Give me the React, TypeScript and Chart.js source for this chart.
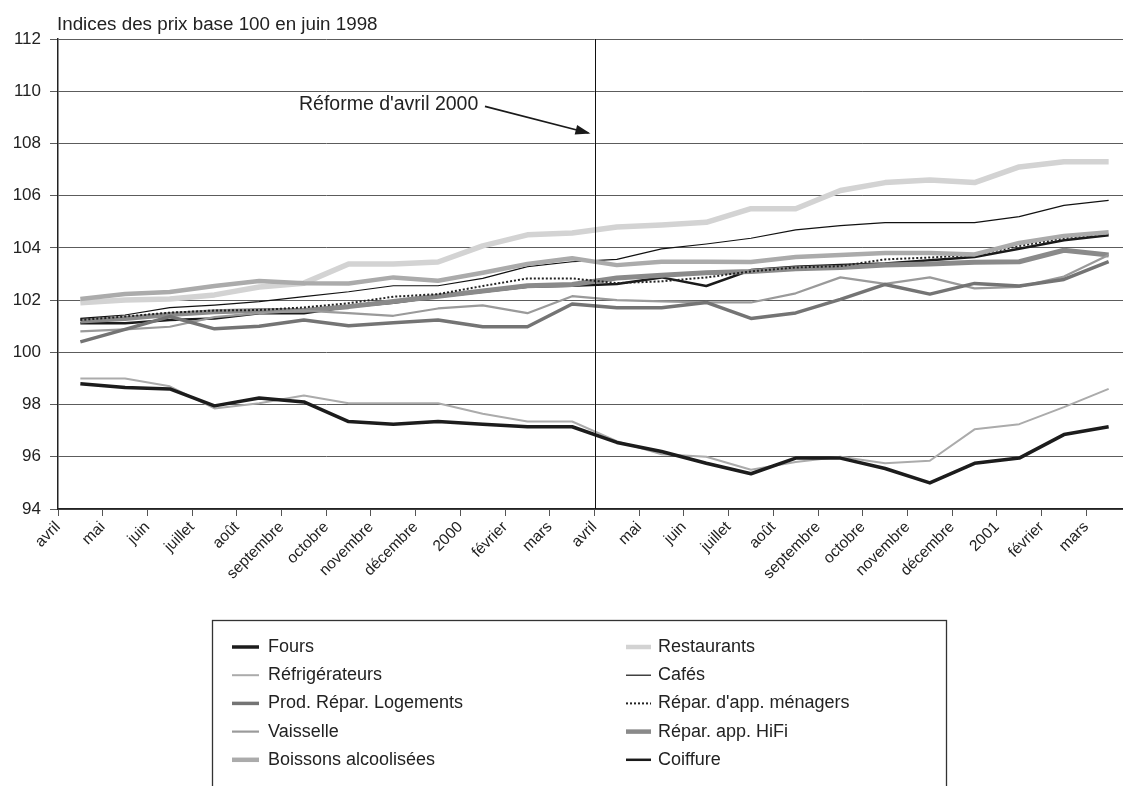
import React, { useEffect, useRef } from 'react';
import { Chart, registerables } from 'chart.js';

Chart.register(...registerables);

const months = ['avril', 'mai', 'juin', 'juillet', 'août', 'septembre', 'octobre', 'novembre', 'décembre', '2000', 'février', 'mars',
  'avril', 'mai', 'juin', 'juillet', 'août', 'septembre', 'octobre', 'novembre', 'décembre', '2001', 'février', 'mars'];

const yTickValues = [94, 96, 98, 100, 102, 104, 106, 108, 110, 112];

const fours = [98.8, 98.65, 98.6, 97.95, 98.25, 98.1, 97.35, 97.25, 97.35, 97.25, 97.15, 97.15, 96.55, 96.2, 95.75, 95.35, 95.95, 95.95, 95.55, 95.0, 95.75, 95.95, 96.85, 97.15];
const refrigerateurs = [99.0, 99.0, 98.7, 97.85, 98.05, 98.35, 98.05, 98.05, 98.05, 97.65, 97.35, 97.35, 96.6, 96.1, 96.0, 95.5, 95.8, 96.0, 95.75, 95.85, 97.05, 97.25, 97.9, 98.6];
const prodRepar = [100.4, 100.88, 101.37, 100.9, 101.0, 101.24, 101.02, 101.13, 101.24, 100.98, 100.98, 101.85, 101.71, 101.71, 101.91, 101.3, 101.51, 102.03, 102.6, 102.23, 102.64, 102.54, 102.79, 103.47];
const vaisselle = [100.8, 100.88, 100.98, 101.35, 101.5, 101.6, 101.5, 101.4, 101.68, 101.8, 101.5, 102.15, 102.0, 101.95, 101.91, 101.91, 102.26, 102.87, 102.62, 102.87, 102.45, 102.51, 102.9, 103.73];
const boissons = [102.04, 102.23, 102.31, 102.54, 102.73, 102.65, 102.64, 102.87, 102.74, 103.05, 103.38, 103.6, 103.34, 103.47, 103.47, 103.46, 103.65, 103.73, 103.8, 103.8, 103.75, 104.19, 104.46, 104.6];
const restaurants = [101.9, 102.0, 102.04, 102.2, 102.5, 102.65, 103.38, 103.38, 103.46, 104.08, 104.5, 104.57, 104.8, 104.88, 104.98, 105.5, 105.5, 106.2, 106.5, 106.6, 106.5, 107.1, 107.3, 107.3];
const cafes = [101.3, 101.43, 101.71, 101.81, 101.94, 102.13, 102.32, 102.55, 102.55, 102.83, 103.28, 103.47, 103.56, 103.96, 104.15, 104.37, 104.69, 104.85, 104.97, 104.97, 104.97, 105.2, 105.63, 105.82];
const menagers = [101.24, 101.37, 101.52, 101.6, 101.62, 101.72, 101.88, 102.13, 102.23, 102.54, 102.83, 102.83, 102.65, 102.72, 102.87, 103.1, 103.25, 103.3, 103.56, 103.63, 103.73, 104.07, 104.37, 104.53];
const hifi = [101.2, 101.3, 101.45, 101.55, 101.6, 101.6, 101.75, 101.95, 102.15, 102.35, 102.55, 102.6, 102.85, 102.95, 103.05, 103.1, 103.2, 103.25, 103.34, 103.38, 103.45, 103.47, 103.91, 103.73];
const coiffure = [101.11, 101.11, 101.24, 101.3, 101.5, 101.5, 101.75, 101.9, 102.13, 102.32, 102.51, 102.55, 102.62, 102.87, 102.54, 103.15, 103.28, 103.34, 103.4, 103.53, 103.65, 103.97, 104.29, 104.48];

const titleText = 'Indices des prix base 100 en juin 1998';
const reformeText = "Réforme d'avril 2000";
const reformeIndex = 12;

const FONT = '"Liberation Sans", Arial, Helvetica, sans-serif';

const series = [
  { label: 'Fours', data: fours, color: '#1c1c1c', width: 3.5, dash: [] as number[] },
  { label: 'Réfrigérateurs', data: refrigerateurs, color: '#ababab', width: 2, dash: [] },
  { label: 'Prod. Répar. Logements', data: prodRepar, color: '#747474', width: 3.5, dash: [] },
  { label: 'Vaisselle', data: vaisselle, color: '#9a9a9a', width: 2.2, dash: [] },
  { label: 'Boissons alcoolisées', data: boissons, color: '#ababab', width: 4.5, dash: [] },
  { label: 'Restaurants', data: restaurants, color: '#d3d3d3', width: 5.5, dash: [] },
  { label: 'Cafés', data: cafes, color: '#111111', width: 1.2, dash: [] },
  { label: "Répar. d'app. ménagers", data: menagers, color: '#222222', width: 2, dash: [2, 2] },
  { label: 'Répar. app. HiFi', data: hifi, color: '#8a8a8a', width: 5, dash: [] },
  { label: 'Coiffure', data: coiffure, color: '#1a1a1a', width: 2.5, dash: [] },
];

const decorPlugin = {
  id: 'decor',
  afterDatasetsDraw(chart: any) {
    const { ctx, scales } = chart;
    const x = scales.x;
    const y = scales.y;
    ctx.save();
    const vx = Math.round(x.getPixelForValue(reformeIndex)) + 0.5;
    ctx.strokeStyle = '#111';
    ctx.lineWidth = 1;
    ctx.beginPath();
    ctx.moveTo(vx, y.getPixelForValue(112));
    ctx.lineTo(vx, y.getPixelForValue(94));
    ctx.stroke();
    ctx.restore();
  },
  afterDraw(chart: any) {
    const { ctx, scales } = chart;
    const x = scales.x;
    const y = scales.y;
    ctx.save();
    // title
    ctx.fillStyle = '#222';
    ctx.font = `18.8px ${FONT}`;
    ctx.textAlign = 'left';
    ctx.textBaseline = 'middle';
    ctx.fillText(titleText, 57, 25);

    // annotation
    const tx = x.getPixelForValue(9.4);
    const ty = y.getPixelForValue(109.5);
    ctx.font = `19.5px ${FONT}`;
    ctx.textAlign = 'right';
    ctx.fillText(reformeText, tx, ty);
    const ax0 = x.getPixelForValue(9.55);
    const ay0 = y.getPixelForValue(109.42);
    const ax1 = x.getPixelForValue(reformeIndex) - 6;
    const ay1 = y.getPixelForValue(108.4);
    ctx.strokeStyle = '#1a1a1a';
    ctx.fillStyle = '#1a1a1a';
    ctx.lineWidth = 1.6;
    ctx.beginPath();
    ctx.moveTo(ax0, ay0);
    ctx.lineTo(ax1, ay1);
    ctx.stroke();
    const ang = Math.atan2(ay1 - ay0, ax1 - ax0);
    const L = 13, Wd = 5;
    ctx.beginPath();
    ctx.moveTo(ax1 + 2 * Math.cos(ang), ay1 + 2 * Math.sin(ang));
    ctx.lineTo(ax1 - L * Math.cos(ang) + Wd * Math.sin(ang), ay1 - L * Math.sin(ang) - Wd * Math.cos(ang));
    ctx.lineTo(ax1 - L * Math.cos(ang) - Wd * Math.sin(ang), ay1 - L * Math.sin(ang) + Wd * Math.cos(ang));
    ctx.closePath();
    ctx.fill();

    // legend
    ctx.strokeStyle = '#333';
    ctx.lineWidth = 1.3;
    ctx.strokeRect(212.5, 620.5, 734, 200);
    ctx.font = `18px ${FONT}`;
    ctx.textAlign = 'left';
    ctx.textBaseline = 'middle';
    chart.data.datasets.forEach((ds: any, i: number) => {
      const col = i < 5 ? 0 : 1;
      const row = i % 5;
      const ly = 647 + row * 28.2;
      const lx0 = col === 0 ? 232 : 626;
      const lx1 = col === 0 ? 259 : 651;
      const txx = col === 0 ? 268 : 658;
      ctx.strokeStyle = ds.borderColor;
      ctx.lineWidth = Math.min(ds.borderWidth, 4.5);
      ctx.setLineDash(ds.borderDash || []);
      ctx.beginPath();
      ctx.moveTo(lx0, ly);
      ctx.lineTo(lx1, ly);
      ctx.stroke();
      ctx.setLineDash([]);
      ctx.fillStyle = '#222';
      ctx.fillText(ds.label, txx, ly);
    });
    ctx.restore();
  },
};

export default function App() {
  const ref = useRef<HTMLCanvasElement | null>(null);
  useEffect(() => {
    document.body.style.margin = '0';
    const canvas = ref.current;
    if (!canvas) return;
    const chart = new Chart(canvas, {
      type: 'line',
      data: {
        datasets: series.map((s) => ({
          label: s.label,
          data: s.data.map((v, i) => ({ x: i + 0.5, y: v })),
          borderColor: s.color,
          backgroundColor: s.color,
          borderWidth: s.width,
          borderDash: s.dash,
          pointRadius: 0,
          tension: 0,
          fill: false,
          borderJoinStyle: 'round',
          borderCapStyle: 'butt',
        })),
      },
      options: {
        responsive: false,
        animation: false,
        events: [],
        layout: { padding: { top: 39, right: 9, left: 0, bottom: 0 } },
        plugins: { legend: { display: false }, tooltip: { enabled: false }, title: { display: false } },
        scales: {
          x: {
            type: 'linear',
            min: 0,
            max: months.length,
            afterBuildTicks: (scale: any) => {
              scale.ticks = months.map((_, i) => ({ value: i }));
            },
            afterFit: (scale: any) => {
              scale.height = 277;
            },
            grid: { display: true, drawOnChartArea: false, drawTicks: true, tickLength: 7, color: '#555', lineWidth: 1 },
            border: { display: true, color: '#222', width: 1.5 },
            ticks: {
              autoSkip: false,
              minRotation: 45,
              maxRotation: 45,
              padding: 2,
              color: '#222',
              font: { family: FONT, size: 15.5 },
              callback: (v: any) => months[Math.round(Number(v))] ?? '',
            },
          },
          y: {
            min: 94,
            max: 112,
            afterBuildTicks: (scale: any) => {
              scale.ticks = yTickValues.map((v) => ({ value: v }));
            },
            afterFit: (scale: any) => {
              scale.width = 58;
            },
            grid: { color: '#5c5c5c', lineWidth: 1, drawTicks: true, tickLength: 8 },
            border: { display: true, color: '#222', width: 1.5 },
            ticks: {
              padding: 9,
              color: '#222',
              font: { family: FONT, size: 17 },
            },
          },
        },
      },
      plugins: [decorPlugin],
    } as any);
    return () => chart.destroy();
  }, []);
  return (
    <div style={{ width: 1123, height: 786, overflow: 'hidden', position: 'relative' }}>
      <canvas ref={ref} width={1140} height={786} style={{ display: 'block' }} />
    </div>
  );
}
